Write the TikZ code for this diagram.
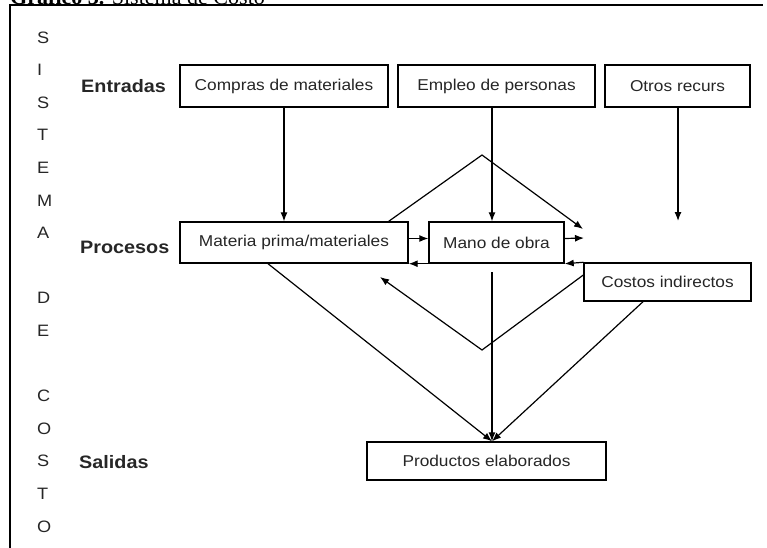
\documentclass[tikz,border=0pt]{standalone}
\usepackage{fontspec}
\setmainfont{Liberation Sans}[FakeStretch=1.1]
\newfontfamily\titlefont{Liberation Serif}[FakeStretch=1.05]
\usetikzlibrary{arrows.meta}

\begin{document}
\begin{tikzpicture}[x=1pt,y=-1pt,
	caja/.style={draw, line width=1.4pt, inner sep=0pt, text=black!85, font=\fontsize{15.7}{18}\selectfont},
	etapa/.style={anchor=base west, inner sep=0pt, text=black!85, font=\bfseries\fontsize{18}{20}\selectfont},
	letra/.style={anchor=base west, inner sep=0pt, text=black!85, font=\fontsize{16.5}{18}\selectfont},
	flujo/.style={line width=1.2pt, -{Latex[length=9pt,width=7pt]}}]
		\useasboundingbox (0,0) rectangle (767,547);
		\node[anchor=base west, inner sep=0pt, font=\titlefont\fontsize{21}{22}\selectfont] (titulo) at (10,4) {\textbf{Gráfico 3.} Sistema de Costo};
		\draw[line width=2pt] (10,548) -- (10,5) -- (763,5);
		% letras verticales
		\foreach \l/\f in {S/0,I/1,S/2,T/3,E/4,M/5,A/6,D/8,E/9,C/11,O/12,S/13,T/14,O/15}
			\node[letra] (letra\f) at (37,{43+32.6*\f}) {\l};
		\node[etapa] (entradas) at (81,92.5) {Entradas};
		\node[etapa] (procesos) at (80,253.5) {Procesos};
		\node[etapa] (salidas) at (79,468.5) {Salidas};
		% cajas
		\node[caja, minimum width=208, minimum height=42] (compras) at (284,86) {Compras de materiales};
		\node[caja, minimum width=197, minimum height=42] (empleo) at (496.5,86) {Empleo de personas};
		\node[caja, minimum width=145, minimum height=42] (otros) at (677.5,86) {Otros recurs};
		\node[caja, minimum width=228, minimum height=41] (materia) at (294,242.5) {Materia prima/materiales};
		\node[caja, minimum width=135, minimum height=41] (mano) at (496.5,242.5) {Mano de obra};
		\node[caja, minimum width=167, minimum height=38] (costos) at (667.5,282) {Costos indirectos};
		\node[caja, minimum width=239, minimum height=38] (productos) at (486.5,461) {Productos elaborados};
		% puntos libres
		\coordinate (eje) at (492,0);
		\coordinate (finOtros) at (678,221);
		\coordinate (salidaMano) at (584,238);
		\coordinate (cima) at (482,155);
		\coordinate (puntaCima) at (583,229);
		\coordinate (fondo) at (482,350);
		\coordinate (puntaFondo) at (380,277);
		\coordinate (bajoMano) at (492,272);
		% flechas
		\draw[flujo] (compras.south) -- (compras.south |- materia.north);
		\draw[flujo] (empleo.south -| eje) -- (mano.north -| eje);
		\draw[flujo] (otros.south -| finOtros) -- (finOtros);
		\draw[flujo] ([yshift=4pt]materia.east) -- ([yshift=4pt]mano.west);
		\draw[flujo] ([yshift=4pt]mano.east) -- (salidaMano);
		\draw[flujo] (mano.south west) -- (materia.south east);
		\draw[flujo] (costos.north west) -- (mano.south east);
		\draw[flujo] ([xshift=-20pt]materia.north east) -- (cima) -- (puntaCima);
		\draw[flujo] ([yshift=7pt]costos.west) -- (fondo) -- (puntaFondo);
		\draw[flujo] ([xshift=-26pt]materia.south) -- (productos.north -| eje);
		\draw[flujo] (bajoMano) -- (productos.north -| eje);
		\draw[flujo] ([xshift=-24.5pt]costos.south) -- (productos.north -| eje);
\end{tikzpicture}
\end{document}
